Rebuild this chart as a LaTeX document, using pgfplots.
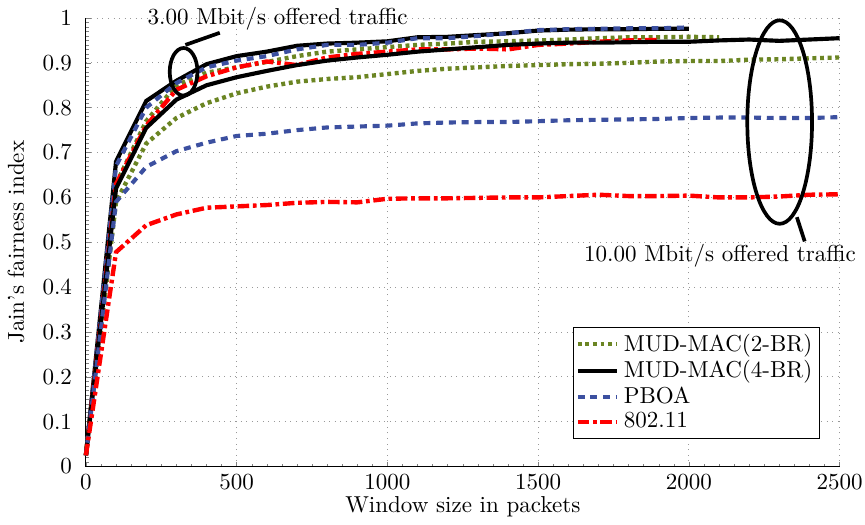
\documentclass[border=0pt]{standalone}
\usepackage{pgfplots}
\pgfplotsset{compat=1.18}
\definecolor{mgreen}{RGB}{107,133,35}
\definecolor{mblue}{RGB}{60,80,160}
\definecolor{mred}{RGB}{255,0,0}
\begin{document}
\begin{tikzpicture}
\begin{axis}[
  scale only axis, width=326bp, height=194bp,
  xmin=0, xmax=2500, ymin=0, ymax=1,
  axis x line*=bottom, axis y line*=left, axis line style={-},
  xtick={0,500,1000,1500,2000,2500},
  ytick={0,0.1,0.2,0.3,0.4,0.5,0.6,0.7,0.8,0.9,1},
  minor x tick num=9, minor y tick num=9,
  major tick length=2bp, minor tick length=1.2bp,
  tick align=inside,
  xmajorgrids, ymajorgrids,
  major grid style={dotted, gray!80},
  /pgf/number format/set thousands separator={},
  yticklabel style={xshift=-2.5bp},
  xticklabel style={inner xsep=1bp},
  xlabel={Window size in packets},
  ylabel={Jain's fairness index},
  xlabel style={yshift=4bp},
  ylabel style={yshift=1bp},
  clip=false,
  legend cell align=left,
  legend style={at={(0.9735,0.062)}, anchor=south east, draw=black, fill=white,
    inner sep=1pt, row sep=-1.5pt, font=\normalsize},
]
% MUD-MAC(2-BR), 3 Mbit/s
\addplot[mgreen, line width=1.9pt, dash pattern=on 1.7pt off 1.6pt] coordinates {
(0,0.025)(100,0.63)(200,0.77)(300,0.85)(400,0.878)(500,0.89)(600,0.902)(700,0.915)(800,0.925)(900,0.93)(1000,0.935)(1100,0.94)(1200,0.943)(1300,0.947)(1400,0.948)(1500,0.95)(1600,0.952)(1700,0.955)(1800,0.957)(1900,0.957)(2000,0.958)(2100,0.957)};
\addlegendentry{MUD-MAC(2-BR)}
% MUD-MAC(4-BR), 3 Mbit/s
\addplot[black, line width=1.8pt] coordinates {
(0,0.025)(100,0.68)(200,0.815)(300,0.86)(400,0.897)(500,0.915)(600,0.925)(700,0.938)(800,0.943)(900,0.945)(1000,0.948)(1100,0.957)(1200,0.958)(1300,0.962)(1400,0.966)(1500,0.972)(1600,0.974)(1700,0.975)(1800,0.975)(1900,0.976)(2000,0.976)};
\addlegendentry{MUD-MAC(4-BR)}
% PBOA, 3 Mbit/s
\addplot[mblue, line width=1.8pt, dash pattern=on 3bp off 2.5bp] coordinates {
(0,0.025)(100,0.67)(200,0.80)(300,0.855)(400,0.89)(500,0.905)(600,0.915)(700,0.93)(800,0.94)(900,0.94)(1000,0.945)(1100,0.955)(1200,0.955)(1300,0.96)(1400,0.966)(1500,0.973)(1600,0.975)(1700,0.976)(1800,0.977)(1900,0.977)(2000,0.979)};
\addlegendentry{PBOA}
% 802.11, 3 Mbit/s
\addplot[mred, line width=1.9pt, dash pattern=on 5bp off 1.6bp on 1.6bp off 1.6bp] coordinates {
(0,0.025)(100,0.63)(200,0.76)(300,0.84)(400,0.87)(500,0.89)(600,0.903)(700,0.895)(800,0.912)(900,0.92)(1000,0.925)(1100,0.93)(1200,0.93)(1300,0.932)(1400,0.93)(1500,0.94)(1600,0.943)(1700,0.947)(1800,0.95)(1900,0.951)};
\addlegendentry{802.11}
% 10 Mbit/s
\addplot[forget plot, mgreen, line width=1.9pt, dash pattern=on 1.7pt off 1.6pt] coordinates {
(0,0.025)(100,0.59)(200,0.72)(300,0.777)(400,0.81)(500,0.832)(600,0.847)(700,0.858)(800,0.864)(900,0.868)(1000,0.875)(1100,0.882)(1200,0.887)(1300,0.89)(1400,0.893)(1500,0.895)(1600,0.897)(1700,0.898)(1800,0.9)(1900,0.903)(2000,0.904)(2100,0.904)(2200,0.907)(2300,0.908)(2400,0.91)(2500,0.912)};
\addplot[forget plot, black, line width=1.8pt] coordinates {
(0,0.025)(100,0.62)(200,0.755)(300,0.818)(400,0.85)(500,0.868)(600,0.882)(700,0.895)(800,0.905)(900,0.912)(1000,0.918)(1100,0.925)(1200,0.93)(1300,0.935)(1400,0.94)(1500,0.943)(1600,0.945)(1700,0.945)(1800,0.946)(1900,0.947)(2000,0.947)(2100,0.95)(2200,0.952)(2300,0.949)(2400,0.952)(2500,0.955)};
\addplot[forget plot, mblue, line width=1.8pt, dash pattern=on 3bp off 2.5bp] coordinates {
(0,0.025)(100,0.59)(200,0.668)(300,0.703)(400,0.722)(500,0.737)(600,0.742)(700,0.75)(800,0.756)(900,0.758)(1000,0.76)(1100,0.765)(1200,0.767)(1300,0.768)(1400,0.768)(1500,0.77)(1600,0.772)(1700,0.773)(1800,0.774)(1900,0.775)(2000,0.777)(2100,0.778)(2200,0.778)(2300,0.777)(2400,0.777)(2500,0.779)};
\addplot[forget plot, mred, line width=1.9pt, dash pattern=on 5bp off 1.6bp on 1.6bp off 1.6bp] coordinates {
(0,0.025)(100,0.478)(200,0.538)(300,0.562)(400,0.577)(500,0.58)(600,0.583)(700,0.588)(800,0.59)(900,0.589)(1000,0.597)(1100,0.598)(1200,0.598)(1300,0.599)(1400,0.6)(1500,0.6)(1600,0.603)(1700,0.606)(1800,0.603)(1900,0.603)(2000,0.604)(2100,0.6)(2200,0.6)(2300,0.602)(2400,0.606)(2500,0.607)};
% annotations
\draw[line width=1.6pt] (axis cs:324,0.88) ellipse [x radius=6bp, y radius=10.3bp];
\draw[line width=1.6pt] (axis cs:330,0.94) -- (axis cs:444,0.967);
\node[anchor=base] at (axis cs:636,0.9845) {3.00 Mbit/s offered traffic};
\draw[line width=1.6pt] (axis cs:2301,0.768) ellipse [x radius=14bp, y radius=44bp];
\draw[line width=1.6pt] (axis cs:2358,0.556) -- (axis cs:2384,0.502);
\node[anchor=base] at (axis cs:2103,0.458) {10.00 Mbit/s offered traffic};
\end{axis}
\end{tikzpicture}
\end{document}
